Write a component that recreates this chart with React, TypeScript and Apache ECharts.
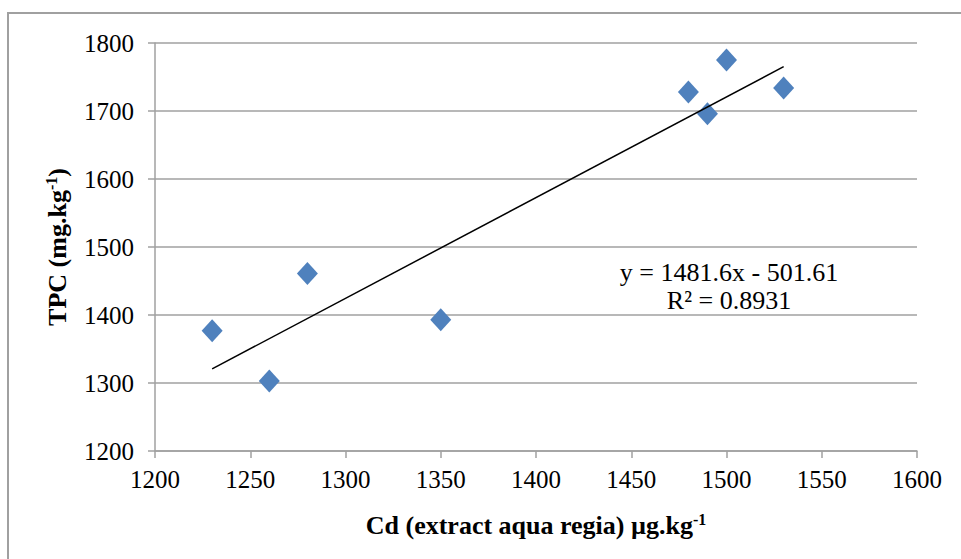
import React, { useEffect, useRef } from "react";
import * as echarts from "echarts";

const cdValues = [1230, 1260, 1280, 1350, 1480, 1490, 1500, 1530];
const tpcValues = [1377, 1303, 1461, 1393, 1728, 1696, 1775, 1734];
const trendSlope = 1481.6;
const trendIntercept = -501.61;
const trendRange = [1230, 1530];
const equationLines = ["y = 1481.6x - 501.61", "R² = 0.8931"];

export default function App() {
  const ref = useRef<HTMLDivElement>(null);
  useEffect(() => {
    document.body.style.margin = "0";
    const chart = echarts.init(ref.current!, null, { renderer: "svg" });
    const points = cdValues.map((x, i) => [x, tpcValues[i]]);
    const trend = trendRange.map((x) => [x, trendSlope * (x / 1000) + trendIntercept]);
    const font = "Liberation Serif";
    const rich = {
      b: { fontFamily: font, fontSize: 26, fontWeight: "bold", color: "#000" },
      s: { fontFamily: font, fontSize: 16, fontWeight: "bold", color: "#000", verticalAlign: "top", padding: [0, 0, 12, 0] },
    };
    chart.setOption({
      animation: false,
      backgroundColor: "#ffffff",
      textStyle: { fontFamily: font },
      grid: { left: 155, right: 44, top: 43, bottom: 108 },
      graphic: [
        {
          type: "rect",
          shape: { x: 8, y: 13, width: 1000, height: 600 },
          style: { fill: "none", stroke: "#a0a0a0", lineWidth: 2 },
          silent: true,
        },
        {
          type: "text",
          x: 729,
          y: 286,
          style: {
            text: equationLines.join("\n"),
            font: `26px "${font}"`,
            fill: "#000",
            textAlign: "center",
            textVerticalAlign: "middle",
            lineHeight: 28,
          },
          z: 10,
        },
      ],
      xAxis: {
        type: "value",
        min: 1200,
        max: 1600,
        interval: 50,
        name: "{b|Cd (extract aqua regia) µg.kg}{s|-1}",
        nameLocation: "middle",
        nameGap: 60,
        nameTextStyle: { rich },
        axisLine: { show: true, lineStyle: { color: "#a0a0a0", width: 1.5 } },
        axisTick: { show: true, length: 7, lineStyle: { color: "#a0a0a0", width: 1.5 } },
        axisLabel: { color: "#000", fontSize: 25, fontFamily: font, margin: 16, formatter: (v: number) => String(v) },
        splitLine: { show: false },
      },
      yAxis: {
        type: "value",
        min: 1200,
        max: 1800,
        interval: 100,
        name: "{b|TPC (mg.kg}{s|-1}{b|)}",
        nameLocation: "middle",
        nameGap: 84,
        nameRotate: 90,
        nameTextStyle: { rich },
        axisLine: { show: true, lineStyle: { color: "#a0a0a0", width: 1.5 } },
        axisTick: { show: true, length: 7, lineStyle: { color: "#a0a0a0", width: 1.5 } },
        axisLabel: { color: "#000", fontSize: 25, fontFamily: font, margin: 21, formatter: (v: number) => String(v) },
        splitLine: { show: true, lineStyle: { color: "#a0a0a0", width: 1.5 } },
      },
      series: [
        {
          type: "line",
          data: trend,
          symbol: "none",
          lineStyle: { color: "#000", width: 1.5 },
          z: 3,
        },
        {
          type: "scatter",
          data: points,
          symbol: "diamond",
          symbolSize: [21, 23],
          itemStyle: { color: "#4f81bd", opacity: 1 },
          z: 2,
        },
      ],
    });
    return () => chart.dispose();
  }, []);
  return <div ref={ref} style={{ position: "absolute", left: 0, top: 0, width: 961, height: 559 }} />;
}
